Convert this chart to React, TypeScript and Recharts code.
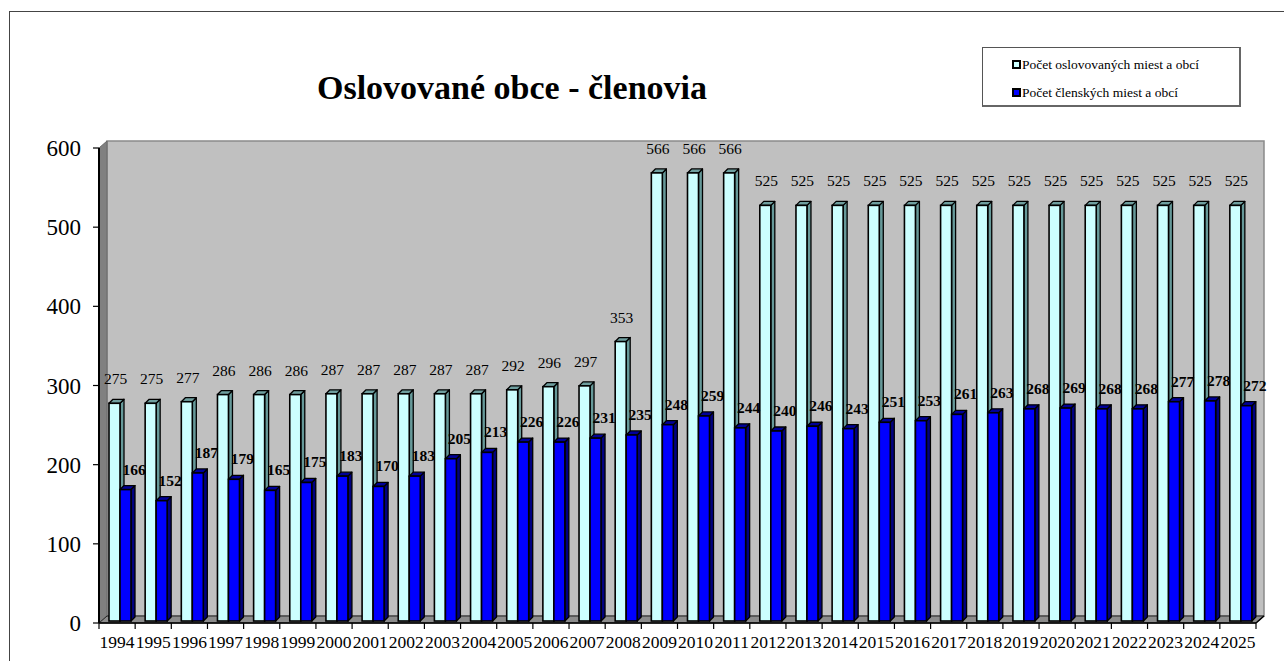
import React from 'react';
import { BarChart, Bar, XAxis, YAxis, ReferenceArea, LabelList } from 'recharts';

const years = ['1994', '1995', '1996', '1997', '1998', '1999', '2000', '2001', '2002', '2003', '2004', '2005', '2006', '2007', '2008', '2009', '2010', '2011', '2012', '2013', '2014', '2015', '2016', '2017', '2018', '2019', '2020', '2021', '2022', '2023', '2024', '2025'];
const oslovovane = [275, 275, 277, 286, 286, 286, 287, 287, 287, 287, 287, 292, 296, 297, 353, 566, 566, 566, 525, 525, 525, 525, 525, 525, 525, 525, 525, 525, 525, 525, 525, 525];
const clenske = [166, 152, 187, 179, 165, 175, 183, 170, 183, 205, 213, 226, 226, 231, 235, 248, 259, 244, 240, 246, 243, 251, 253, 261, 263, 268, 269, 268, 268, 277, 278, 272];
const yTicks = [0, 100, 200, 300, 400, 500, 600];
const seriesNames = ['Počet oslovovaných miest a obcí', 'Počet členských miest a obcí'];
const titleText = 'Oslovované obce - členovia';

const data = years.map((y, i) => ({ year: y, osl: oslovovane[i], cl: clenske[i] }));

const FONT = '"Liberation Serif", "Times New Roman", serif';
const D = 4;
const SHIFT = 3;
const LIFT = 2;
const WD = 8;
const WV = 7;

function make3DBar(front: string, side: string, top: string) {
  return (props: any) => {
    const { x, y, width, height } = props;
    if (x == null || y == null || !width || height == null) return <g />;
    const x0 = x + SHIFT;
    const y0 = y - LIFT;
    const w = width;
    const h = height;
    return (
      <g>
        <polygon
          points={`${x0 + w},${y0} ${x0 + w + D},${y0 - D} ${x0 + w + D},${y0 + h - D} ${x0 + w},${y0 + h}`}
          fill={side}
          stroke="#000"
          strokeWidth={1.3}
          strokeLinejoin="round"
        />
        <polygon
          points={`${x0},${y0} ${x0 + D},${y0 - D} ${x0 + w + D},${y0 - D} ${x0 + w},${y0}`}
          fill={top}
          stroke="#000"
          strokeWidth={1.3}
          strokeLinejoin="round"
        />
        <rect x={x0} y={y0} width={w} height={h} fill={front} stroke="#000" strokeWidth={1.6} />
      </g>
    );
  };
}

const CyanBar = make3DBar('#CCFFFF', '#669999', '#6F9F9F');
const BlueBar = make3DBar('#0000FF', '#000080', '#000099');

const Wall = (props: any) => {
  const { x, y, width, height } = props;
  if (x == null) return <g />;
  const w = width;
  const h = height;
  return (
    <g>
      <rect x={x + WD} y={y - WV} width={w} height={h} fill="#C0C0C0" stroke="#8A8A8A" strokeWidth={1.5} />
      <polygon points={`${x},${y} ${x + WD},${y - WV} ${x + WD},${y + h - WV} ${x},${y + h}`} fill="#808080" stroke="#6A6A6A" strokeWidth={1} />
      <polygon points={`${x},${y + h} ${x + WD},${y + h - WV} ${x + w + WD},${y + h - WV} ${x + w},${y + h}`} fill="#8C8C8C" stroke="#222" strokeWidth={1} />
      <line x1={x + w} y1={y + h} x2={x + w + WD} y2={y + h - WV} stroke="#000" strokeWidth={1.5} />
    </g>
  );
};

const CyanLabel = (props: any) => {
  const { x, y, width, value } = props;
  if (x == null) return null;
  return (
    <text x={x + width / 2 + SHIFT + 1} y={y - LIFT - 19} textAnchor="middle" fontFamily={FONT} fontSize={15.5} fill="#000">
      {value}
    </text>
  );
};

const BlueLabel = (props: any) => {
  const { x, y, width, value } = props;
  if (x == null) return null;
  return (
    <text x={x + width + SHIFT + 3} y={y - LIFT - 15} textAnchor="middle" fontFamily={FONT} fontSize={15.5} fontWeight="bold" fill="#000">
      {value}
    </text>
  );
};

const XTick = (props: any) => {
  const { x, y, payload, index } = props;
  const half = payload && payload.offset ? payload.offset : 18.08;
  return (
    <g>
      <line x1={x - half} y1={y} x2={x - half} y2={y + 6} stroke="#000" strokeWidth={1.2} />
      {index === years.length - 1 && <line x1={x + half} y1={y} x2={x + half} y2={y + 6} stroke="#000" strokeWidth={1.2} />}
      <text x={x} y={y + 25} textAnchor="middle" fontFamily={FONT} fontSize={17.5} fill="#000">
        {payload.value}
      </text>
    </g>
  );
};

const LegendSwatch = ({ color }: { color: string }) => (
  <span
    style={{
      display: 'inline-block',
      width: 5,
      height: 5,
      background: color,
      border: '2px solid #000',
      marginRight: 1,
      verticalAlign: 'middle',
      position: 'relative',
      top: -1,
    }}
  />
);

export default function App() {
  return (
    <div style={{ position: 'absolute', left: 0, top: 0, width: 1284, height: 661, overflow: 'hidden', background: '#fff' }}>
      <div style={{ position: 'absolute', left: 9, top: 11, width: 1300, height: 700, border: '1px solid #444' }} />
      <div
        style={{
          position: 'absolute',
          left: 212,
          top: 65,
          width: 600,
          textAlign: 'center',
          fontFamily: FONT,
          fontWeight: 'bold',
          fontSize: 34,
          lineHeight: '46px',
          color: '#000',
        }}
      >
        {titleText}
      </div>
      <div
        style={{
          position: 'absolute',
          left: 982,
          top: 47,
          width: 256,
          height: 57,
          border: '1px solid #555',
          borderRight: '2px solid #666',
          borderBottom: '2px solid #666',
          background: '#fff',
          fontFamily: FONT,
          fontSize: 13.5,
          color: '#000',
        }}
      >
        <div style={{ position: 'absolute', left: 29, top: 9, whiteSpace: 'nowrap', lineHeight: '16px' }}>
          <LegendSwatch color="#CCFFFF" />
          {seriesNames[0]}
        </div>
        <div style={{ position: 'absolute', left: 29, top: 37, whiteSpace: 'nowrap', lineHeight: '16px' }}>
          <LegendSwatch color="#0000FF" />
          {seriesNames[1]}
        </div>
      </div>
      <div style={{ position: 'absolute', left: 0, top: 0 }}>
        <BarChart width={1284} height={661} data={data} margin={{ top: 148, right: 28, bottom: 0, left: 39 }} barGap={0}>
          <ReferenceArea y1={0} y2={600} shape={<Wall />} ifOverflow="visible" />
          <XAxis
            dataKey="year"
            interval={0}
            height={38}
            tickLine={false}
            tickSize={0}
            tickMargin={0}
            axisLine={{ stroke: '#000', strokeWidth: 1.5 }}
            tick={<XTick />}
          />
          <YAxis
            domain={[0, 600]}
            ticks={yTicks}
            interval={0}
            width={60}
            tickSize={6}
            tickMargin={12}
            axisLine={{ stroke: '#000', strokeWidth: 2 }}
            tickLine={{ stroke: '#000', strokeWidth: 1.2 }}
            tick={{ fontFamily: FONT, fontSize: 23, fill: '#000' }}
          />
          <Bar dataKey="osl" name={seriesNames[0]} barSize={11} shape={CyanBar} isAnimationActive={false}>
            <LabelList dataKey="osl" content={CyanLabel} />
          </Bar>
          <Bar dataKey="cl" name={seriesNames[1]} barSize={11} shape={BlueBar} isAnimationActive={false}>
            <LabelList dataKey="cl" content={BlueLabel} />
          </Bar>
        </BarChart>
      </div>
    </div>
  );
}
